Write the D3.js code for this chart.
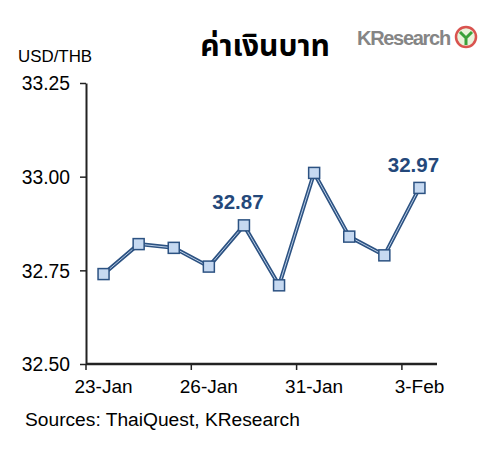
<!DOCTYPE html>
<html><head><meta charset="utf-8">
<script src="https://cdn.jsdelivr.net/npm/d3@7"></script>
<style>body{margin:0;background:#fff}svg{display:block}</style>
</head><body>
<script>
const categories = ["23-Jan","24-Jan","25-Jan","26-Jan","27-Jan","30-Jan","31-Jan","1-Feb","2-Feb","3-Feb"];
const values = [32.74, 32.82, 32.81, 32.76, 32.87, 32.71, 33.01, 32.84, 32.79, 32.97];
const yTicks = [32.50, 32.75, 33.00, 33.25];
const xTickLabels = ["23-Jan","26-Jan","31-Jan","3-Feb"];
const labeled = [{cat:"27-Jan", text:"32.87"},{cat:"3-Feb", text:"32.97"}];

(function(){
const W=503,H=459;
const svg=d3.select("body").append("svg").attr("width",W).attr("height",H);
const mL=86,mR=437,mT=83,mB=364;
const x=d3.scaleBand().domain(categories).range([mL,mR]);
const y=d3.scaleLinear().domain([32.5,33.25]).range([mB,mT]);
const font="Arial, 'Liberation Sans', sans-serif";

// Title
svg.append("text").attr("x",265).attr("y",56).attr("text-anchor","middle")
  .attr("font-family","'Noto Sans Thai','Noto Sans','DejaVu Sans',sans-serif").attr("font-weight","bold")
  .attr("font-size",30).attr("fill","#000").text("ค่าเงินบาท");
// logo
svg.append("text").attr("x",357).attr("y",45).attr("font-family",font).attr("font-weight","bold")
  .attr("font-size",20).attr("fill","#858585").attr("letter-spacing","-1.3").text("KResearch");
svg.append("circle").attr("cx",466).attr("cy",37).attr("r",10).attr("fill","#e9f3dc").attr("stroke","#d9534f").attr("stroke-width",2.5);
svg.append("path").attr("d","M460,32 L466,38 L472,32 M466,38 L466,45").attr("stroke","#3aa13a").attr("stroke-width",3).attr("fill","none");

svg.append("text").attr("x",18).attr("y",62).attr("font-family",font).attr("font-size",16.9).attr("fill","#000").text("USD/THB");

// Y axis
const ya=svg.append("g").attr("transform",`translate(${mL},0)`)
  .call(d3.axisLeft(y).tickValues(yTicks).tickFormat(d3.format(".2f")).tickSize(6).tickSizeOuter(0));
ya.select(".domain").attr("stroke","#222").attr("stroke-width",2);
ya.selectAll(".tick line").attr("stroke","#222").attr("stroke-width",1.5);
ya.selectAll(".tick text").attr("font-family",font).attr("font-size",19.3).attr("fill","#000").attr("x",-16).attr("dy","0.35em");

// X axis
const xa=svg.append("g").attr("transform",`translate(0,${mB})`);
xa.append("line").attr("x1",mL).attr("x2",mR).attr("stroke","#222").attr("stroke-width",2.5);
const tickCats=categories.filter((c,i)=>i%3===0);
tickCats.forEach(c=>{
  xa.append("line").attr("x1",x(c)).attr("x2",x(c)).attr("y1",0).attr("y2",6).attr("stroke","#222").attr("stroke-width",1.5);
});
xa.selectAll("text.xl").data(xTickLabels).enter().append("text").attr("class","xl")
  .attr("x",d=>x(d)+x.bandwidth()/2).attr("y",29).attr("text-anchor","middle")
  .attr("font-family",font).attr("font-size",19).attr("fill","#000").text(d=>d);

// line
const line=d3.line().x((d,i)=>x(categories[i])+x.bandwidth()/2).y(d=>y(d));
svg.append("path").datum(values).attr("d",line).attr("fill","none").attr("stroke","#2c5282").attr("stroke-width",4).attr("stroke-linejoin","round");
svg.append("path").datum(values).attr("d",line).attr("fill","none").attr("stroke","#b9cde6").attr("stroke-width",1).attr("stroke-linejoin","round");

// markers
svg.selectAll("rect.m").data(values).enter().append("rect").attr("class","m")
  .attr("x",(d,i)=>x(categories[i])+x.bandwidth()/2-5.5).attr("y",d=>y(d)-5.5)
  .attr("width",11).attr("height",11).attr("fill","#c6d9f1").attr("stroke","#2c5282").attr("stroke-width",1.5);

// labels
svg.selectAll("text.lab").data(labeled).enter().append("text").attr("class","lab")
  .attr("x",d=>x(d.cat)+x.bandwidth()/2-6).attr("y",d=>y(values[categories.indexOf(d.cat)])-16)
  .attr("text-anchor","middle").attr("font-family",font).attr("font-weight","bold").attr("font-size",20.5)
  .attr("fill","#24487a").text(d=>d.text);

svg.append("text").attr("x",25).attr("y",426).attr("font-family",font).attr("font-size",19.2).attr("fill","#000")
  .text("Sources: ThaiQuest, KResearch");
})();
</script>
</body></html>
